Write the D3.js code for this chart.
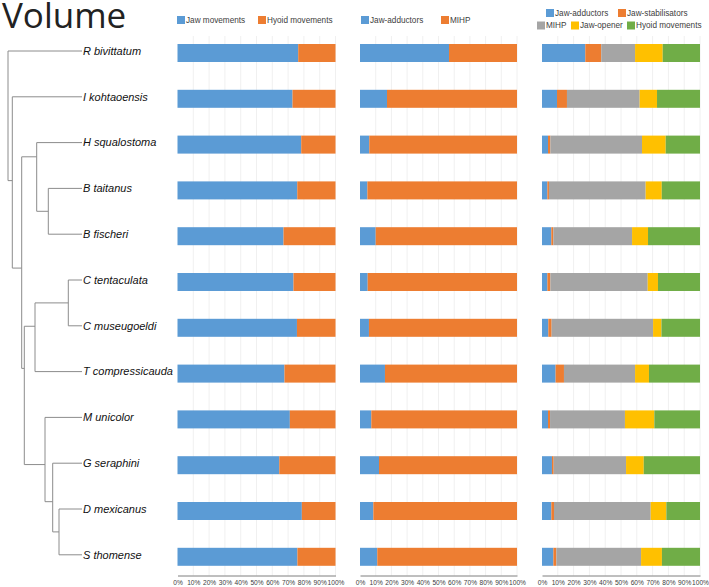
<!DOCTYPE html>
<html><head><meta charset="utf-8">
<script src="https://cdn.jsdelivr.net/npm/d3@7"></script>
<style>body{margin:0;background:#fff}</style></head>
<body><svg id="c" width="709" height="587"></svg>
<script>
// ---------- DATA ----------
const species = ["R bivittatum","I kohtaoensis","H squalostoma","B taitanus","B fischeri","C tentaculata","C museugoeldi","T compressicauda","M unicolor","G seraphini","D mexicanus","S thomense"];
const tickLabels = ["0%","10%","20%","30%","40%","50%","60%","70%","80%","90%","100%"];

// panel 1
const jawMovements   = [76.4,72.8,78.3,75.8,67.1,73.4,75.6,67.7,71.1,64.4,78.7,75.9];
const hyoidMovements = [23.6,27.2,21.7,24.2,32.9,26.6,24.4,32.3,28.9,35.6,21.3,24.1];
// panel 2
const jawAdductorsShare = [56.7,17.2,5.9,4.7,10.0,4.9,5.7,15.9,7.2,12.1,8.5,11.0];
const mihpShare         = [43.3,82.8,94.1,95.3,90.0,95.1,94.3,84.1,92.8,87.9,91.5,89.0];
// panel 3
const jawAdductors    = [27.4,9.5,3.8,3.4,5.9,3.4,4.0,8.6,3.8,6.3,5.9,7.2];
const jawStabilisators= [10.1,6.3,1.5,1.0,1.3,1.9,2.1,5.3,1.3,1.1,1.7,1.9];
const mihp            = [21.4,46.0,58.0,61.2,49.8,61.6,64.2,45.0,47.4,45.8,61.2,53.6];
const jawOpener       = [17.5,11.0,15.0,10.2,10.1,6.5,5.3,8.8,18.6,11.2,9.9,13.2];
const hyoidMov3       = [23.6,27.2,21.7,24.2,32.9,26.6,24.4,32.3,28.9,35.6,21.3,24.1];

// tree: depth in branch units, pos in leaf-index units
const treeInternal = [
  {id:"root", parent:null, depth:0},
  {id:"A",  parent:"root", depth:4.3,  pos:2.83},
  {id:"B",  parent:"A",    depth:13.7, pos:4.74},
  {id:"H",  parent:"B",    depth:28.7, pos:2.31},
  {id:"Bt", parent:"H",    depth:40.3, pos:3.5},
  {id:"X",  parent:"B",    depth:16.3, pos:6.93},
  {id:"C",  parent:"X",    depth:27,   pos:6.01},
  {id:"CC", parent:"C",    depth:60.3, pos:5.5},
  {id:"M",  parent:"X",    depth:37,   pos:9.03},
  {id:"G",  parent:"M",    depth:44.7, pos:9.84},
  {id:"D",  parent:"G",    depth:51,   pos:10.5}
];
const leafParents = ["root","A","H","Bt","Bt","CC","CC","C","M","G","D","D"];
const leafDepth = 74;

// ---------- LAYOUT ----------
const svg = d3.select("#c");
const blue="#5B9BD5", orange="#ED7D31", gray="#A5A5A5", yellow="#FFC000", green="#70AD47";

const y = d3.scaleBand().domain(species).range([30.1, 579.7]).paddingInner(0.607).paddingOuter(0.3035);
const axisY = 575.5, gridTop = 36;

svg.append("text").attr("x",2).attr("y",28).text("Volume")
  .attr("font-family","'Open Sans', Lato, sans-serif").attr("font-size",35).attr("fill","#222");

const panels = [
  {x0:177.5, x1:335.5, keys:["Jaw movements","Hyoid movements"], colors:[blue,orange], series:[jawMovements,hyoidMovements],
   legend:[{x:177,y:20},{x:258,y:20}]},
  {x0:360, x1:517, keys:["Jaw-adductors","MIHP"], colors:[blue,orange], series:[jawAdductorsShare,mihpShare],
   legend:[{x:361,y:20},{x:441,y:20}]},
  {x0:542, x1:700, keys:["Jaw-adductors","Jaw-stabilisators","MIHP","Jaw-opener","Hyoid movements"],
   colors:[blue,orange,gray,yellow,green], series:[jawAdductors,jawStabilisators,mihp,jawOpener,hyoidMov3],
   legend:[{x:546,y:13},{x:618,y:13},{x:537,y:25.5},{x:571,y:25.5},{x:627,y:25.5}]}
];

panels.forEach(p => {
  const x = d3.scaleLinear().domain([0,100]).range([p.x0,p.x1]);
  const g = svg.append("g");
  g.selectAll("line.grid").data(d3.range(10,101,10)).join("line")
    .attr("x1",d=>x(d)).attr("x2",d=>x(d)).attr("y1",gridTop).attr("y2",axisY)
    .attr("stroke","#f0f0f0").attr("stroke-width",1);
  const rows = species.map((s,i)=>{const o={sp:s}; p.keys.forEach((k,j)=>o[k]=p.series[j][i]); return o;});
  const stack = d3.stack().keys(p.keys)(rows);
  stack.forEach((layer,j)=>{
    g.append("g").attr("fill",p.colors[j]).selectAll("rect").data(layer).join("rect")
      .attr("x",d=>x(d[0])).attr("width",d=>x(d[1])-x(d[0]))
      .attr("y",d=>y(d.data.sp)).attr("height",y.bandwidth());
  });
  const ax = g.append("g").attr("transform",`translate(0,${axisY})`)
    .call(d3.axisBottom(x).tickValues(d3.range(0,101,10)).tickFormat((d,i)=>tickLabels[i]).tickSize(0).tickPadding(5));
  ax.select(".domain").attr("stroke","#7f7f7f");
  ax.selectAll("text").attr("font-family","'Liberation Sans', Arial, sans-serif").attr("font-size",6.6).attr("fill","#404040");
  p.keys.forEach((k,j)=>{
    const L = p.legend[j];
    g.append("rect").attr("x",L.x).attr("y",L.y-4).attr("width",8).attr("height",8).attr("fill",p.colors[j]);
    g.append("text").attr("x",L.x+9).attr("y",L.y).attr("dy","0.35em").text(k)
      .attr("font-family","'Liberation Sans', Arial, sans-serif").attr("font-size",8.2).attr("fill","#404040");
  });
});

// ---------- TREE ----------
const step = y.step();
const c0 = y(species[0]) + y.bandwidth()/2 - 2;
const ty = d3.scaleLinear().domain([0,11]).range([c0, c0+11*step]);
const tx = d3.scaleLinear().domain([0,leafDepth]).range([8,82]);

const nodes = {};
treeInternal.forEach(n => nodes[n.id] = {...n, children:[]});
species.forEach((s,i)=> nodes[s] = {id:s, parent:leafParents[i], depth:leafDepth, pos:i, children:[], leaf:true});
Object.values(nodes).forEach(n => { if(n.parent) nodes[n.parent].children.push(n); });
const root = nodes["root"];
root.pos = d3.mean(root.children, c=>c.pos);

const tg = svg.append("g").attr("stroke","#8c8c8c").attr("stroke-width",1).attr("fill","none");
Object.values(nodes).forEach(n => {
  if(n.parent){
    const par = nodes[n.parent];
    tg.append("line").attr("x1",tx(par.depth)).attr("x2",tx(n.depth)).attr("y1",ty(n.pos)).attr("y2",ty(n.pos));
  }
  if(n.children.length){
    const ext = d3.extent(n.children, c=>c.pos);
    tg.append("line").attr("x1",tx(n.depth)).attr("x2",tx(n.depth)).attr("y1",ty(ext[0])).attr("y2",ty(ext[1]));
  }
});
svg.append("g").selectAll("text").data(species).join("text")
  .attr("x",tx(leafDepth)+1).attr("y",(d,i)=>ty(i)).attr("dy","0.35em").text(d=>d)
  .attr("font-family","'Liberation Sans', Arial, sans-serif").attr("font-style","italic").attr("font-size",11).attr("fill","#111");
</script></body></html>
